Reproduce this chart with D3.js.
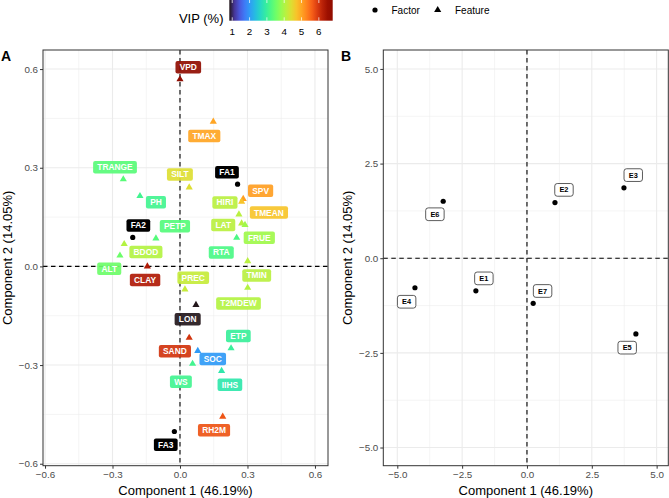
<!DOCTYPE html>
<html><head><meta charset="utf-8">
<script src="https://cdn.jsdelivr.net/npm/d3@7"></script>
<style>
html,body{margin:0;padding:0;background:#fff;}
svg{display:block;font-family:"Liberation Sans",Arial,Helvetica,sans-serif;}
</style></head>
<body>
<svg id="chart" width="669" height="498"></svg>
<script>
// ---------- DATA ----------
const features = ["VPD","TMAX","TRANGE","SILT","SPV","TMEAN","HIRI","LAT","FRUE","RTA","PH","PETP","BDOD","ALT","CLAY","PREC","TMIN","T2MDEW","LON","SAND","SOC","WS","ETP","IIHS","RH2M"];
const featComp1 = [0.000,0.148,-0.252,0.041,0.281,0.274,0.262,0.274,0.289,0.252,-0.178,-0.107,-0.248,-0.267,-0.145,0.022,0.301,0.301,0.071,0.041,0.079,0.056,0.227,0.185,0.190];
const featComp2 = [0.569,0.440,0.265,0.240,0.205,0.197,0.158,0.131,0.126,0.087,0.214,0.085,0.068,0.033,0.000,-0.070,0.016,-0.065,-0.117,-0.217,-0.257,-0.296,-0.249,-0.318,-0.457];
const featVIP  = [6.80,5.00,3.33,4.40,5.07,4.70,4.10,4.10,3.90,3.20,3.10,3.30,4.05,3.50,6.30,4.20,4.10,4.05,0.83,6.00,2.00,3.10,3.00,2.85,5.70];

const factors = ["FA1","FA2","FA3"];
const factorComp1 = [0.256,-0.210,-0.025];
const factorComp2 = [0.250,0.088,-0.502];

const envs = ["E1","E2","E3","E4","E5","E6","E7"];
const envComp1 = [-1.97,1.08,3.74,-4.32,4.20,-3.23,0.24];
const envComp2 = [-0.86,1.47,1.86,-0.78,-2.00,1.505,-1.19];

const ticksA = [-0.6,-0.3,0,0.3,0.6];
const minorA = [-0.45,-0.15,0.15,0.45];
const ticksB = [-5,-2.5,0,2.5,5];
const minorB = [-3.75,-1.25,1.25,3.75];
const vipTicks = [1,2,3,4,5,6];
const vipMin = 0.83, vipMax = 6.8;
const xTitle = "Component 1 (46.19%)";
const yTitle = "Component 2 (14.05%)";

// ---------- LAYOUT (label nudges in px, ggrepel-like placement) ----------
const nudgeA = {
  VPD:[8.3,-12], TMAX:[-9,14.3], TRANGE:[-8.3,-12], SILT:[-9.3,-13], SPV:[17.4,-8.3], TMEAN:[27.3,11],
  HIRI:[-14,-12], LAT:[-18.4,1.7], FRUE:[14.3,12.7], RTA:[-15.4,14.6], PH:[16,6.3], PETP:[19,-12.3],
  BDOD:[21.7,8], ALT:[-10.7,13.3], CLAY:[-2.3,13.7], PREC:[8.3,-11.6], TMIN:[9,14.3], T2MDEW:[-9.2,15.6],
  LON:[-8.3,14.3], SAND:[-14.3,13.6], SOC:[15,8], WS:[-11.7,18], ETP:[7.3,-12.3], IIHS:[8.3,13.7],
  RH2M:[-8.7,13.6], FA1:[-10.6,-12], FA2:[5.6,-12], FA3:[-8.6,13.3]
};
const nudgeB = { E1:[8,-12.4], E2:[9,-12.7], E3:[9.3,-12.7], E4:[-8.3,14], E5:[-8.7,13.7], E6:[-8.3,13], E7:[9.4,-12.3] };

const svg = d3.select("#chart");
const color = v => d3.interpolateTurbo((v - vipMin) / (vipMax - vipMin));
const gridCol = "#ebebeb", axisCol = "#333333", tickTextCol = "#4d4d4d";

function panel(cfg) {
  const {x, y, ticks, minor, fmt, letter, lx} = cfg;
  const g = svg.append("g");
  const [x0, x1] = x.range(), [y1, y0] = y.range();
  minor.forEach(v => {
    g.append("line").attr("x1", x(v)).attr("x2", x(v)).attr("y1", y0).attr("y2", y1).attr("stroke", gridCol).attr("stroke-width", 0.55);
    g.append("line").attr("y1", y(v)).attr("y2", y(v)).attr("x1", x0).attr("x2", x1).attr("stroke", gridCol).attr("stroke-width", 0.55);
  });
  ticks.forEach(v => {
    g.append("line").attr("x1", x(v)).attr("x2", x(v)).attr("y1", y0).attr("y2", y1).attr("stroke", gridCol).attr("stroke-width", 1.1);
    g.append("line").attr("y1", y(v)).attr("y2", y(v)).attr("x1", x0).attr("x2", x1).attr("stroke", gridCol).attr("stroke-width", 1.1);
  });
  g.append("line").attr("x1", x(0)).attr("x2", x(0)).attr("y1", y0).attr("y2", y1)
    .attr("stroke", "#000").attr("stroke-width", 1.1).attr("stroke-dasharray", "4.5,3.5");
  g.append("line").attr("y1", y(0)).attr("y2", y(0)).attr("x1", x0).attr("x2", x1)
    .attr("stroke", "#000").attr("stroke-width", 1.1).attr("stroke-dasharray", "4.5,3.5");
  const ax = g.append("g").attr("transform", `translate(0,${y1})`)
    .call(d3.axisBottom(x).tickValues(ticks).tickSize(3).tickPadding(2).tickFormat(fmt));
  const ay = g.append("g").attr("transform", `translate(${x0},0)`)
    .call(d3.axisLeft(y).tickValues(ticks).tickSize(3).tickPadding(2).tickFormat(fmt));
  [ax, ay].forEach(a => {
    a.select(".domain").remove();
    a.selectAll(".tick line").attr("stroke", axisCol).attr("stroke-width", 1);
    a.selectAll(".tick text").attr("fill", tickTextCol).style("font-size", "9.8px")
      .style("font-family", '"Liberation Sans",Arial,sans-serif');
  });
  g.append("rect").attr("x", x0).attr("y", y0).attr("width", x1 - x0).attr("height", y1 - y0)
    .attr("fill", "none").attr("stroke", axisCol).attr("stroke-width", 1);
  g.append("text").attr("x", (x0 + x1) / 2).attr("y", 495).attr("text-anchor", "middle")
    .style("font-size", "13px").attr("fill", "#000").text(xTitle);
  g.append("text").attr("transform", `translate(${x0 - 31},${(y0 + y1) / 2}) rotate(-90)`).attr("text-anchor", "middle")
    .style("font-size", "13px").attr("fill", "#000").text(yTitle);
  g.append("text").attr("x", lx).attr("y", 61).style("font-size", "14px").style("font-weight", "bold").text(letter);
  return g;
}

function addLabel(g, px, py, txt, opts) {
  const lg = g.append("g");
  const t = lg.append("text").attr("x", px).attr("y", py).attr("text-anchor", "middle").attr("dy", "0.35em")
    .style("font-size", opts.fs + "px").style("font-weight", "bold").attr("fill", opts.textFill).text(txt);
  const w = t.node().getComputedTextLength() + 2 * opts.pad;
  lg.insert("rect", "text").attr("x", px - w / 2).attr("y", py - opts.h / 2).attr("width", w).attr("height", opts.h)
    .attr("rx", opts.rx).attr("fill", opts.fill).attr("fill-opacity", opts.op || 1)
    .attr("stroke", opts.stroke || "none").attr("stroke-width", opts.sw || 0);
}

// ---------- PANEL A ----------
const xA = d3.scaleLinear().domain([-0.609, 0.658]).range([43, 328]);
const yA = d3.scaleLinear().domain([-0.606, 0.658]).range([465.7, 50]);
const fmtA = d => d3.format(".1f")(d).replace("-", "\u2212");
const gA = panel({x: xA, y: yA, ticks: ticksA, minor: minorA, fmt: fmtA, letter: "A", lx: 1});

const tri = d3.symbol().type(d3.symbolTriangle).size(22);
features.forEach((f, i) => {
  const px = xA(featComp1[i]), py = yA(featComp2[i]);
  const n = nudgeA[f];
  addLabel(gA, px + n[0], py + n[1], f, {fs: 8.4, pad: 4.2, h: 12.5, rx: 2, fill: color(featVIP[i]), textFill: "#fff", op: 0.92});
});
factors.forEach((f, i) => {
  const px = xA(factorComp1[i]), py = yA(factorComp2[i]);
  const n = nudgeA[f];
  addLabel(gA, px + n[0], py + n[1], f, {fs: 8.4, pad: 4.2, h: 12.5, rx: 2, fill: "#000", textFill: "#fff"});
});
features.forEach((f, i) => {
  gA.append("path").attr("d", tri).attr("transform", `translate(${xA(featComp1[i])},${yA(featComp2[i])})`)
    .attr("fill", color(featVIP[i]));
});
factors.forEach((f, i) => {
  gA.append("circle").attr("cx", xA(factorComp1[i])).attr("cy", yA(factorComp2[i])).attr("r", 2.6).attr("fill", "#000");
});

// ---------- PANEL B ----------
const xB = d3.scaleLinear().domain([-5.54, 5.45]).range([383.3, 668.3]);
const yB = d3.scaleLinear().domain([-5.48, 5.50]).range([465.7, 50]);
const fmtB = d => d3.format(".1f")(d).replace("-", "\u2212");
const gB = panel({x: xB, y: yB, ticks: ticksB, minor: minorB, fmt: fmtB, letter: "B", lx: 341});
envs.forEach((e, i) => {
  const px = xB(envComp1[i]), py = yB(envComp2[i]);
  const n = nudgeB[e];
  addLabel(gB, px + n[0], py + n[1], e, {fs: 7.4, pad: 4.7, h: 12.7, rx: 2.5, fill: "#fff", textFill: "#000", stroke: "#333", sw: 0.8});
});
envs.forEach((e, i) => {
  gB.append("circle").attr("cx", xB(envComp1[i])).attr("cy", yB(envComp2[i])).attr("r", 2.6).attr("fill", "#000");
});

// ---------- LEGENDS ----------
const lg = svg.append("g");
const barX = d3.scaleLinear().domain([vipMin, vipMax]).range([229.3, 332.7]);
const grad = svg.append("defs").append("linearGradient").attr("id", "vipgrad");
d3.range(0, 1.0001, 0.05).forEach(t => grad.append("stop").attr("offset", t).attr("stop-color", d3.interpolateTurbo(t)));
lg.append("rect").attr("x", 229.3).attr("y", -3).attr("width", 103.4).attr("height", 23.7).attr("fill", "url(#vipgrad)");
vipTicks.forEach(v => {
  lg.append("line").attr("x1", barX(v)).attr("x2", barX(v)).attr("y1", 0).attr("y2", 3).attr("stroke", "#fff").attr("stroke-opacity", 0.7);
  lg.append("line").attr("x1", barX(v)).attr("x2", barX(v)).attr("y1", 17.3).attr("y2", 20.7).attr("stroke", "#fff").attr("stroke-opacity", 0.7);
  lg.append("text").attr("x", barX(v)).attr("y", 35).attr("text-anchor", "middle").style("font-size", "9.8px").text(v);
});
lg.append("text").attr("x", 223.5).attr("y", 22.5).attr("text-anchor", "end").style("font-size", "13px").text("VIP (%)");
lg.append("circle").attr("cx", 375).attr("cy", 10).attr("r", 2.6).attr("fill", "#000");
lg.append("text").attr("x", 391.5).attr("y", 13.6).style("font-size", "10px").text("Factor");
lg.append("path").attr("d", tri).attr("transform", "translate(437.7,10)").attr("fill", "#000");
lg.append("text").attr("x", 455).attr("y", 13.6).style("font-size", "10px").text("Feature");
</script>
</body></html>
